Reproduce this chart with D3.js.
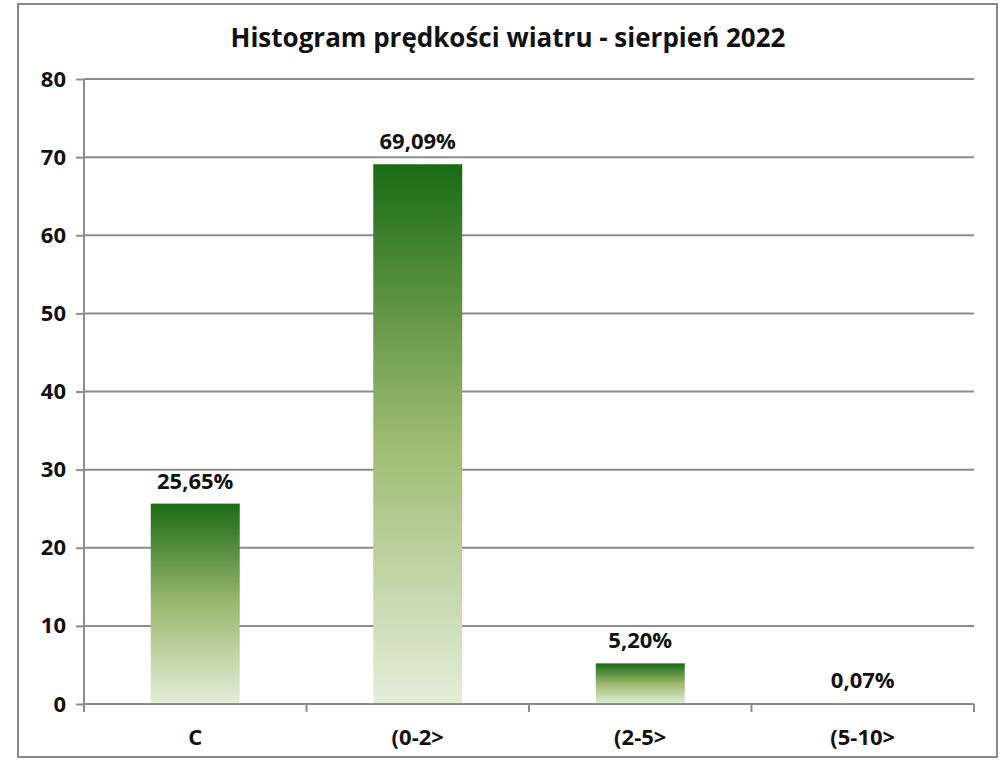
<!DOCTYPE html>
<html>
<head>
<meta charset="utf-8">
<script src="https://cdn.jsdelivr.net/npm/d3@7"></script>
<style>
    body { margin: 0; background: #fff; }
    svg { display: block; }
    text { font-family: "Open Sans", Calibri, sans-serif; font-weight: bold; fill: #111; }
</style>
</head>
<body>
<svg id="chart" width="1004" height="760"></svg>
<script>
// chart data
var categories = ["C", "(0-2>", "(2-5>", "(5-10>"];
var values = [25.65, 69.09, 5.20, 0.07];
var labels = ["25,65%", "69,09%", "5,20%", "0,07%"];
var yTicks = [0, 10, 20, 30, 40, 50, 60, 70, 80];
var title = "Histogram prędkości wiatru - sierpień 2022";

(function(){
    var svg = d3.select("#chart");
    var gridColor = "#8c8c8c";
    var labelSize = "22px";

    // outer frame
    svg.append("rect")
        .attr("x", 18).attr("y", 4)
        .attr("width", 979).attr("height", 753)
        .attr("fill", "#fff")
        .attr("stroke", "#888").attr("stroke-width", 2);

    // gradient for the bars
    var grad = svg.append("defs").append("linearGradient")
        .attr("id", "barfill")
        .attr("x1", 0).attr("y1", 0).attr("x2", 0).attr("y2", 1);
    grad.append("stop").attr("offset", "0%").attr("stop-color", "#1a6b15");
    grad.append("stop").attr("offset", "50%").attr("stop-color", "#9cb96e");
    grad.append("stop").attr("offset", "100%").attr("stop-color", "#e3eed9");

    var left = 84, right = 974, top = 79, bottom = 704;

    var x = d3.scaleBand().domain(categories)
        .range([left, right]).paddingInner(0.6).paddingOuter(0.3);
    var xOuter = d3.scaleBand().domain(categories).range([left, right]);
    var y = d3.scaleLinear().domain([0, 80]).range([bottom, top]);

    // gridlines
    svg.append("g").selectAll("line")
        .data(yTicks.filter(function(t) { return t > 0; }))
        .join("line")
        .attr("x1", left).attr("x2", right)
        .attr("y1", function(d) { return y(d); })
        .attr("y2", function(d) { return y(d); })
        .attr("stroke", gridColor).attr("stroke-width", 2);

    // y axis
    var yAxis = svg.append("g")
        .attr("transform", "translate(" + left + ",0)")
        .call(d3.axisLeft(y).tickValues(yTicks).tickSize(8).tickPadding(10));
    yAxis.selectAll("path, line").attr("stroke", gridColor).attr("stroke-width", 2);
    yAxis.select(".domain").attr("d", "M0," + top + "V" + bottom);
    yAxis.selectAll("text")
        .style("font-size", labelSize).style("font-family", "'Open Sans', sans-serif")
        .style("font-weight", "bold").attr("fill", "#111");

    // bars
    svg.append("g").selectAll("rect")
        .data(values)
        .join("rect")
        .attr("x", function(d, i) { return x(categories[i]); })
        .attr("width", x.bandwidth())
        .attr("y", function(d) { return y(d); })
        .attr("height", function(d) { return y(0) - y(d); })
        .attr("fill", "url(#barfill)");

    // x axis
    var xAxisG = svg.append("g").attr("transform", "translate(0," + bottom + ")");
    xAxisG.append("line")
        .attr("x1", left).attr("x2", right)
        .attr("stroke", gridColor).attr("stroke-width", 2);
    xAxisG.selectAll("line.tick")
        .data(categories.concat([null]))
        .join("line")
        .attr("class", "tick")
        .attr("x1", function(d, i) { return left + i * xOuter.step(); })
        .attr("x2", function(d, i) { return left + i * xOuter.step(); })
        .attr("y1", 0).attr("y2", 8)
        .attr("stroke", gridColor).attr("stroke-width", 2);
    xAxisG.selectAll("text")
        .data(categories)
        .join("text")
        .attr("x", function(d) { return xOuter(d) + xOuter.bandwidth() / 2; })
        .attr("y", 41)
        .attr("text-anchor", "middle")
        .style("font-size", labelSize)
        .text(function(d) { return d; });

    // data labels
    svg.append("g").selectAll("text")
        .data(values)
        .join("text")
        .attr("x", function(d, i) { return x(categories[i]) + x.bandwidth() / 2; })
        .attr("y", function(d) { return y(d) - 15; })
        .attr("text-anchor", "middle")
        .style("font-size", labelSize)
        .text(function(d, i) { return labels[i]; });

    // title
    svg.append("text")
        .attr("x", 508).attr("y", 47)
        .attr("text-anchor", "middle")
        .style("font-size", "26px")
        .text(title);
})();
</script>
</body>
</html>
